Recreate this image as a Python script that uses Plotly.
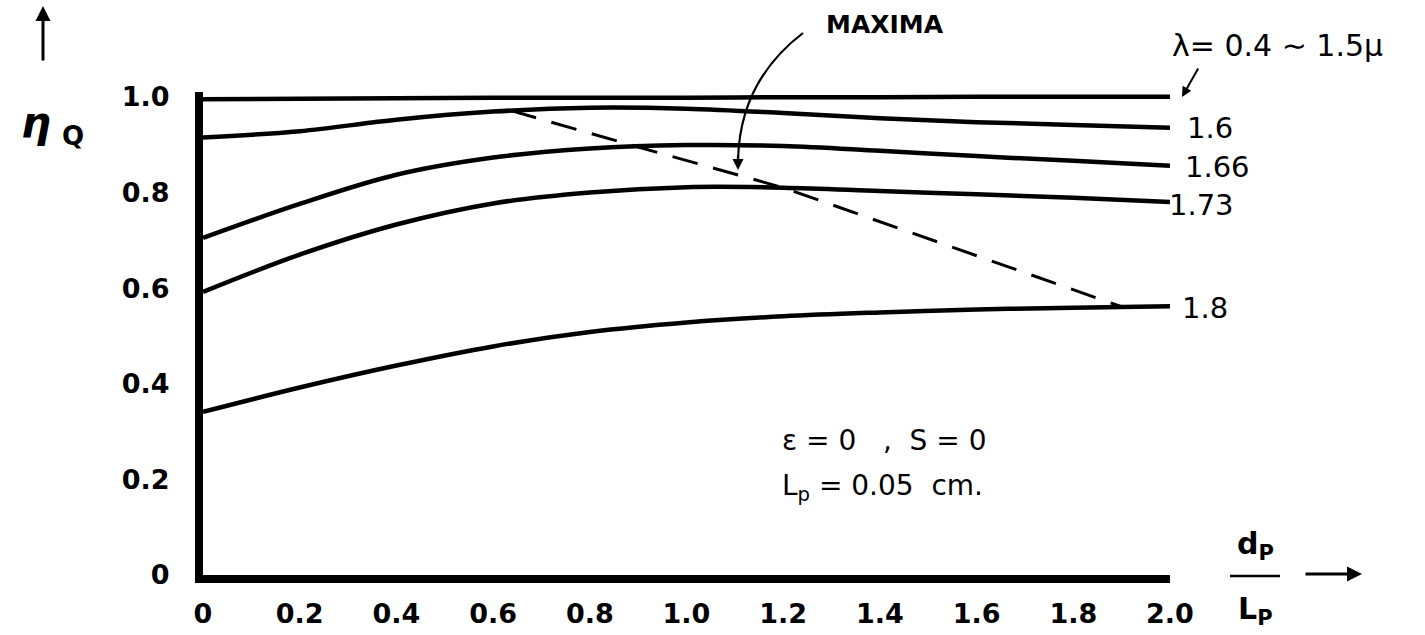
import plotly.graph_objects as go

# ---- data ----
x_vals = [0.0, 0.2, 0.4, 0.6, 0.8, 1.0, 1.2, 1.4, 1.6, 1.8, 2.0]
eta_04_15 = [0.995, 0.996, 0.997, 0.998, 0.998, 0.998, 0.999, 0.999, 1.0, 1.0, 1.0]
eta_160 = [0.915, 0.928, 0.952, 0.969, 0.977, 0.975, 0.966, 0.955, 0.947, 0.941, 0.935]
eta_166 = [0.705, 0.776, 0.837, 0.873, 0.892, 0.899, 0.897, 0.887, 0.876, 0.866, 0.856]
eta_173 = [0.592, 0.670, 0.733, 0.777, 0.800, 0.811, 0.810, 0.803, 0.796, 0.789, 0.780]
eta_180 = [0.341, 0.392, 0.438, 0.478, 0.508, 0.528, 0.541, 0.549, 0.555, 0.559, 0.562]
maxima_x = [0.637, 0.90, 1.20, 1.897]
maxima_y = [0.971, 0.895, 0.810, 0.562]

x_ticks = [0.0, 0.2, 0.4, 0.6, 0.8, 1.0, 1.2, 1.4, 1.6, 1.8, 2.0]
x_ticktext = ["0", "0.2", "0.4", "0.6", "0.8", "1.0", "1.2", "1.4", "1.6", "1.8", "2.0"]
y_ticks = [0.0, 0.2, 0.4, 0.6, 0.8, 1.0]
y_ticktext = ["0", "0.2", "0.4", "0.6", "0.8", "1.0"]

series = [
    ("λ = 0.4 ~ 1.5μ", eta_04_15),
    ("1.6", eta_160),
    ("1.66", eta_166),
    ("1.73", eta_173),
    ("1.8", eta_180),
]

# ---- geometry ----
FW, FH = 1425, 635
L, R, T, B = 203, 1170, 92, 575
PW, PH = R - L, B - T


def pxx(p):
    return (p - L) / PW


def pxy(p):
    return (B - p) / PH


FONT = "DejaVu Sans"

fig = go.Figure()
for name, ys in series:
    fig.add_trace(go.Scatter(
        x=x_vals, y=ys, mode="lines", name=name,
        line=dict(color="black", width=4.5, shape="spline", smoothing=1.0),
        showlegend=False, hoverinfo="x+y+name",
    ))
fig.add_trace(go.Scatter(
    x=maxima_x, y=maxima_y, mode="lines", name="MAXIMA",
    line=dict(color="black", width=3, dash="26px,16px"),
    showlegend=False,
))

ann = []
# series labels at right
for txt, xp, yp in [("1.6", 1185, 128), ("1.66", 1183, 167), ("1.73", 1167, 205), ("1.8", 1180, 308)]:
    ann.append(dict(x=pxx(xp), y=pxy(yp), xref="paper", yref="paper", text=txt,
                    showarrow=False, xanchor="left", yanchor="middle",
                    font=dict(family=FONT, size=29, color="black")))
# lambda label and arrow
ann.append(dict(x=pxx(1170), y=pxy(45), xref="paper", yref="paper",
                text="λ= 0.4 ∼ 1.5μ", showarrow=False, xanchor="left", yanchor="middle",
                font=dict(family=FONT, size=30, color="black")))
ann.append(dict(x=pxx(1182), y=pxy(97), xref="paper", yref="paper", text="",
                showarrow=True, ax=17, ay=-30, arrowhead=2, arrowsize=1, arrowwidth=2,
                arrowcolor="black"))
# MAXIMA
ann.append(dict(x=pxx(885), y=pxy(25), xref="paper", yref="paper", text="MAXIMA",
                showarrow=False, xanchor="center", yanchor="middle",
                font=dict(family=FONT, size=25, color="black", weight="bold")))
ann.append(dict(x=pxx(738), y=pxy(170), xref="paper", yref="paper", text="",
                showarrow=True, ax=0, ay=-16, arrowhead=2, arrowsize=1, arrowwidth=2.2,
                arrowcolor="black"))
# parameters
ann.append(dict(x=pxx(780), y=pxy(440), xref="paper", yref="paper",
                text="ε\u00a0=\u00a00\u00a0\u00a0\u00a0,\u00a0\u00a0S\u00a0=\u00a00",
                showarrow=False, xanchor="left", yanchor="middle",
                font=dict(family=FONT, size=28, color="black")))
ann.append(dict(x=pxx(780), y=pxy(487), xref="paper", yref="paper",
                text="L<sub>p</sub>\u00a0=\u00a00.05\u00a0\u00a0cm.",
                showarrow=False, xanchor="left", yanchor="middle",
                font=dict(family=FONT, size=28, color="black")))
# y-axis title
ann.append(dict(x=pxx(36), y=pxy(122), xref="paper", yref="paper", text="<i>η</i>",
                showarrow=False, xanchor="center", yanchor="middle",
                font=dict(family=FONT, size=42, color="black", weight="bold")))
ann.append(dict(x=pxx(73), y=pxy(136), xref="paper", yref="paper", text="Q",
                showarrow=False, xanchor="center", yanchor="middle",
                font=dict(family=FONT, size=26, color="black", weight="bold")))
ann.append(dict(x=pxx(43), y=pxy(6), xref="paper", yref="paper", text="",
                showarrow=True, ax=0, ay=56, arrowhead=2, arrowsize=1, arrowwidth=3,
                arrowcolor="black"))
# x-axis title (fraction)
ann.append(dict(x=pxx(1255), y=pxy(545), xref="paper", yref="paper", text="d<sub>P</sub>",
                showarrow=False, xanchor="center", yanchor="middle",
                font=dict(family=FONT, size=30, color="black", weight="bold")))
ann.append(dict(x=pxx(1255), y=pxy(610), xref="paper", yref="paper", text="L<sub>P</sub>",
                showarrow=False, xanchor="center", yanchor="middle",
                font=dict(family=FONT, size=30, color="black", weight="bold")))
ann.append(dict(x=pxx(1362), y=pxy(574), xref="paper", yref="paper", text="",
                showarrow=True, ax=-58, ay=0, arrowhead=2, arrowsize=1, arrowwidth=3,
                arrowcolor="black"))

shapes = [
    dict(type="line", xref="paper", yref="paper",
         x0=pxx(1230), x1=pxx(1280), y0=pxy(576), y1=pxy(576),
         line=dict(color="black", width=2.5)),
    dict(type="path", xref="paper", yref="paper",
         path=f"M {pxx(803)},{pxy(33)} Q {pxx(740)},{pxy(81)} {pxx(738)},{pxy(160)}",
         line=dict(color="black", width=2.2)),
]

fig.update_layout(
    template="none",
    width=FW, height=FH,
    margin=dict(l=L, r=FW - R, t=T, b=FH - B, pad=0, autoexpand=False),
    paper_bgcolor="white", plot_bgcolor="white",
    annotations=ann, shapes=shapes,
    xaxis=dict(range=[0, 2], tickvals=x_ticks, ticktext=x_ticktext, automargin=False,
               showline=True, linewidth=8, linecolor="black", showgrid=False,
               zeroline=False, ticks="", ticklabelstandoff=8,
               tickfont=dict(family=FONT, size=27, color="black", weight="bold")),
    yaxis=dict(range=[0, 1.01], tickvals=y_ticks, ticktext=y_ticktext, automargin=False,
               showline=True, linewidth=8, linecolor="black", showgrid=False,
               zeroline=False, ticks="", ticklabelstandoff=20,
               tickfont=dict(family=FONT, size=27, color="black", weight="bold")),
)

fig.write_html(
    "out.html",
    config={"displayModeBar": False},
    post_script="document.body.style.margin='0';document.body.style.overflow='hidden';",
)
